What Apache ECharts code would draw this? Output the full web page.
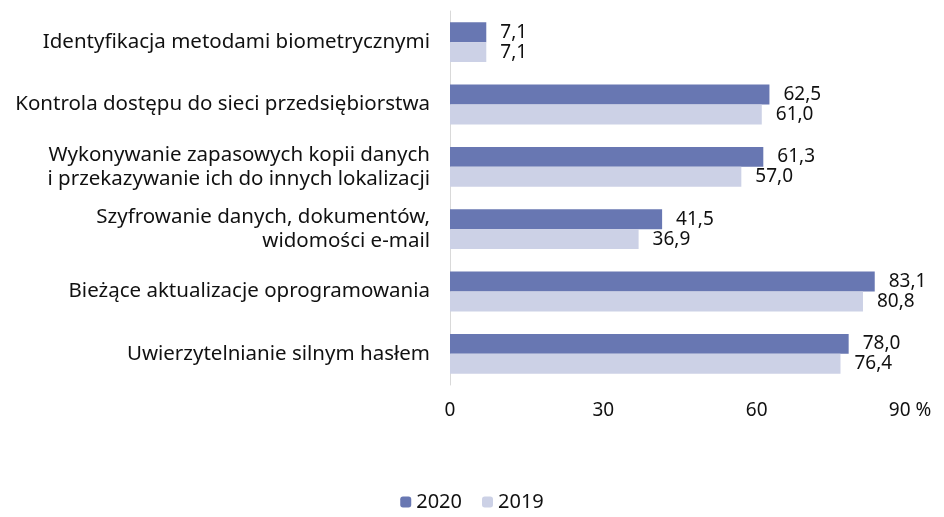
<!DOCTYPE html>
<html><head><meta charset="utf-8">
<script src="https://cdn.jsdelivr.net/npm/echarts@6/dist/echarts.min.js"></script>
<style>html,body{margin:0;padding:0;background:#fff}#c{width:944px;height:517px}</style>
</head><body><div id="c"></div>
<script>
const categories = [
  "Identyfikacja metodami biometrycznymi",
  "Kontrola dostępu do sieci przedsiębiorstwa",
  "Wykonywanie zapasowych kopii danych\ni przekazywanie ich do innych lokalizacji",
  "Szyfrowanie danych, dokumentów,\nwidomości e-mail",
  "Bieżące aktualizacje oprogramowania",
  "Uwierzytelnianie silnym hasłem"
];
const values2020 = [7.1, 62.5, 61.3, 41.5, 83.1, 78.0];
const values2019 = [7.1, 61.0, 57.0, 36.9, 80.8, 76.4];
const seriesNames = ["2020", "2019"];
const xTicks = [0, 30, 60, 90];

const font = "Noto Sans";
const chart = echarts.init(document.getElementById('c'));
const lbl = {
  show: true, position: 'right', distance: 14, color: '#111', fontSize: 19, fontFamily: font,
  formatter: p => p.value.toFixed(1).replace('.', ',')
};
chart.setOption({
  animation: false,
  textStyle: { fontFamily: font },
  grid: { left: 450, right: 34, top: 11, height: 374, containLabel: false },
  legend: {
    bottom: 0, left: 'center', itemWidth: 11, itemHeight: 11, itemGap: 20,
    textStyle: { fontSize: 20, color: '#111', fontFamily: font },
    data: seriesNames
  },
  xAxis: {
    type: 'value', min: 0, max: 90, interval: 30,
    axisLine: { show: false }, axisTick: { show: false }, splitLine: { show: false },
    axisLabel: { fontSize: 19, color: '#111', margin: 16, fontFamily: font,
      formatter: v => v === xTicks[xTicks.length - 1] ? v + ' %' : String(v) }
  },
  yAxis: {
    type: 'category', inverse: true, data: categories,
    axisLine: { show: true, lineStyle: { color: '#d9d9d9', width: 1 } },
    axisTick: { show: false },
    axisLabel: { fontSize: 20.5, color: '#111', margin: 20, lineHeight: 24, fontFamily: font, align: 'right' }
  },
  series: [
    { name: seriesNames[0], type: 'bar', data: values2020, barGap: '0%', barCategoryGap: '36%',
      itemStyle: { color: '#6877b2' }, label: lbl },
    { name: seriesNames[1], type: 'bar', data: values2019, barGap: '0%', barCategoryGap: '36%',
      itemStyle: { color: '#ccd1e6' }, label: lbl }
  ]
});
</script></body></html>
